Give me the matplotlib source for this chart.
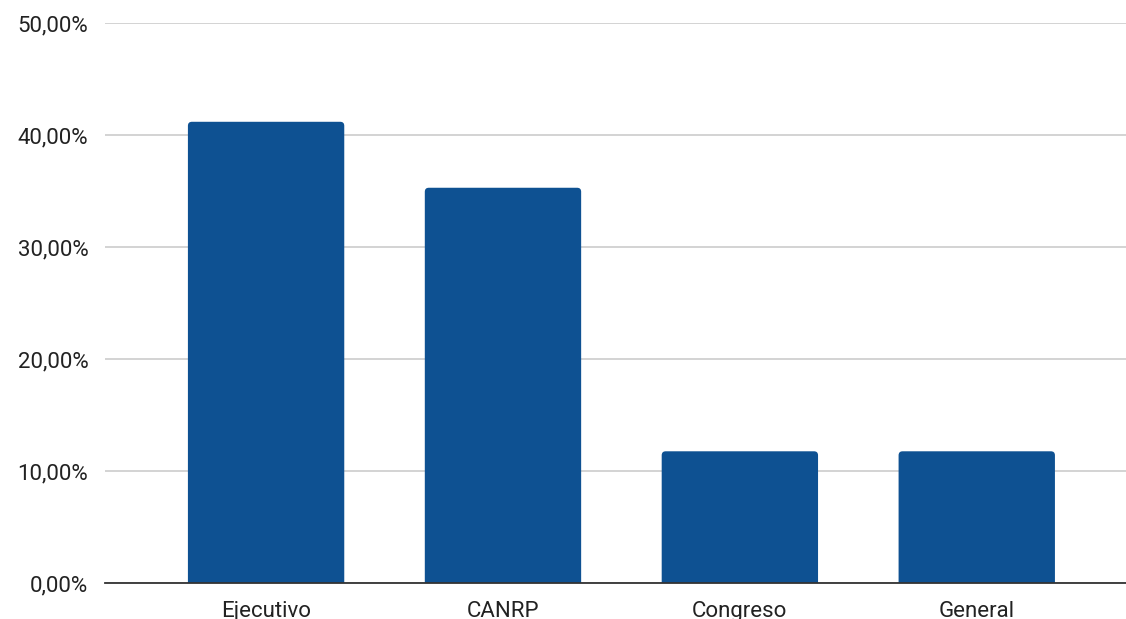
import matplotlib
matplotlib.use('Agg')
from matplotlib import pyplot as plt
from matplotlib.patches import FancyBboxPatch
from matplotlib.ticker import FuncFormatter

categories = ['Ejecutivo', 'CANRP', 'Congreso', 'General']
shares = [41.18, 35.29, 11.76, 11.76]
yticks = [0, 10, 20, 30, 40, 50]

BAR_COLOR = '#0e5192'
TEXT_COLOR = '#222222'

plt.rcParams['font.family'] = ['Roboto', 'DejaVu Sans']

fig = plt.figure(figsize=(11.26, 6.19), dpi=100)
ax = fig.add_axes([105/1126, 36/619, 1 - 105/1126, 560/619])

x = list(range(len(categories)))
bars = ax.bar(x, shares, width=0.66, color=BAR_COLOR, zorder=3)

ax.set_xlim(-0.68, 3.63)
ax.set_ylim(0, 50)

# swap the plain rectangles for ones with softly rounded tops
px_x = (3.63 + 0.68) / (1126 - 105)
px_y = 50 / 560
for rect in bars:
    rect.set_visible(False)
    x0, w, h = rect.get_x(), rect.get_width(), rect.get_height()
    sink = 6 * px_y
    ax.add_patch(FancyBboxPatch((x0, -sink), w, h + sink,
                                boxstyle=f'round,pad=0,rounding_size={4 * px_x}',
                                mutation_aspect=px_y / px_x,
                                facecolor=BAR_COLOR, edgecolor='none', zorder=3))

ax.set_yticks(yticks)
ax.yaxis.set_major_formatter(FuncFormatter(lambda v, p: f'{v:.2f}'.replace('.', ',') + '%'))
ax.set_xticks(x)
ax.set_xticklabels(categories)

ax.grid(axis='y', color='#cccccc', linewidth=1.2, zorder=0)
for side in ['top', 'right', 'left']:
    ax.spines[side].set_visible(False)
ax.spines['bottom'].set_color('#333333')
ax.spines['bottom'].set_linewidth(1.3)
ax.spines['bottom'].set_zorder(4)

ax.tick_params(axis='both', length=0, labelsize=16, colors=TEXT_COLOR)
ax.tick_params(axis='y', pad=12)
ax.tick_params(axis='x', pad=13)

fig.savefig('out.png', dpi=100)
